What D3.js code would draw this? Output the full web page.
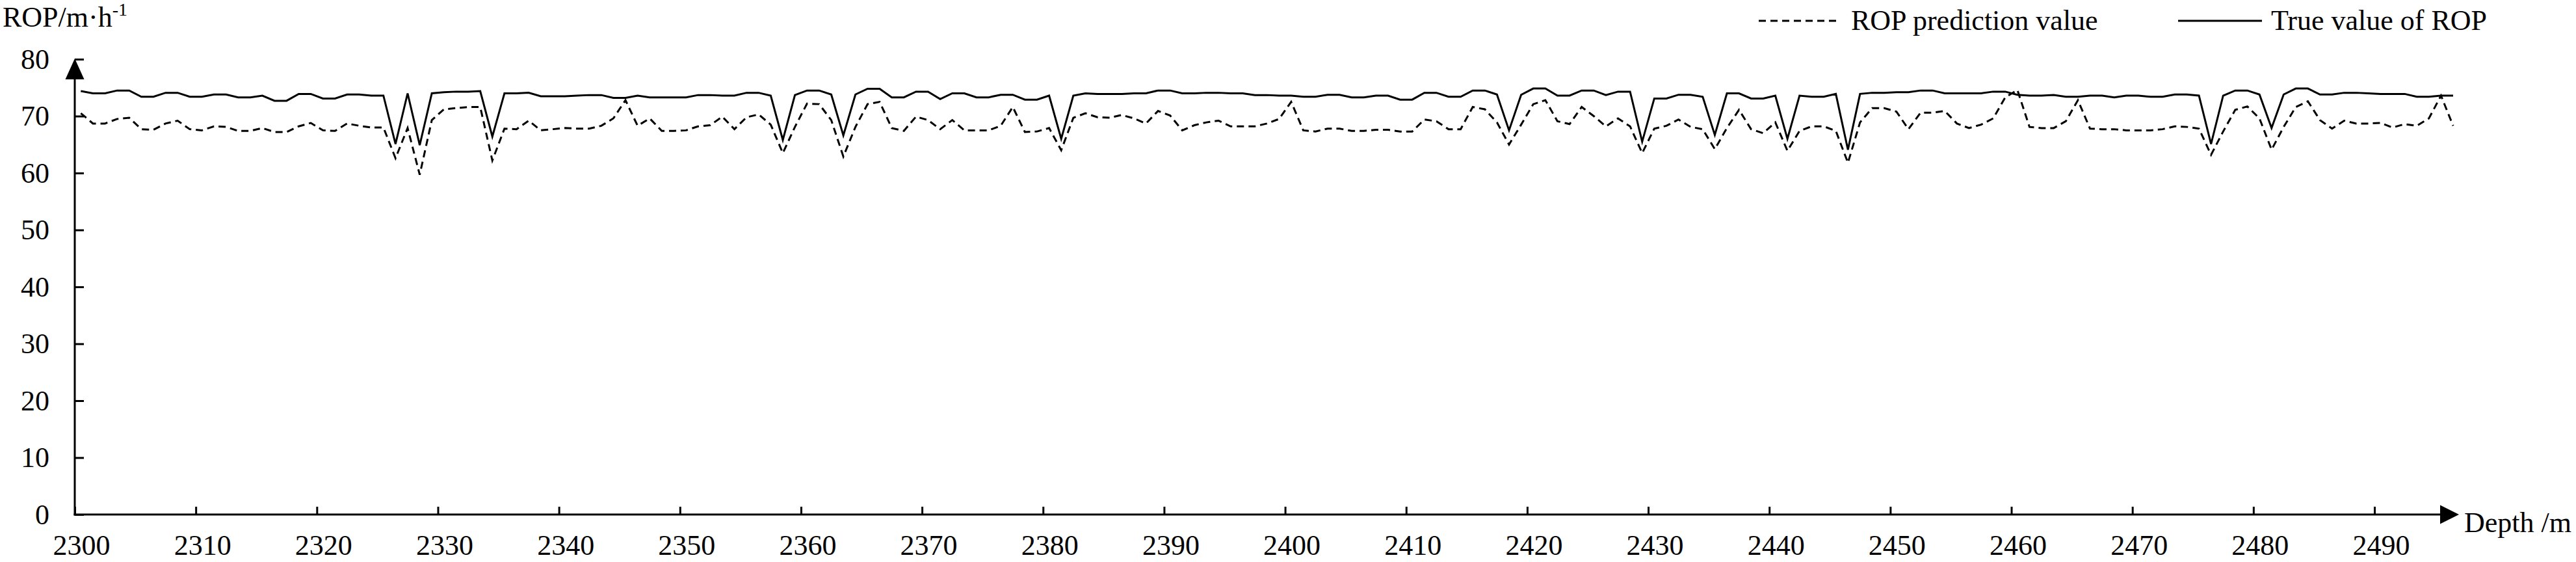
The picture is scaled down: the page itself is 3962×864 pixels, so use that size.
<!DOCTYPE html>
<html><head><meta charset="utf-8">
<script src="https://cdn.jsdelivr.net/npm/d3@7"></script>
<style>
body{margin:0;background:#fff}
svg text{font-family:"Liberation Serif","Times New Roman",serif;fill:#000}
</style>
</head><body>
<svg id="chart" width="3962" height="864"></svg>
<script>
const depths = [
2300.5,2301.5,2302.5,2303.5,2304.5,2305.5,2306.5,2307.5,2308.5,2309.5,
2310.5,2311.5,2312.5,2313.5,2314.5,2315.5,2316.5,2317.5,2318.5,2319.5,
2320.5,2321.5,2322.5,2323.5,2324.5,2325.5,2326.5,2327.5,2328.5,2329.5,
2330.5,2331.5,2332.5,2333.5,2334.5,2335.5,2336.5,2337.5,2338.5,2339.5,
2340.5,2341.5,2342.5,2343.5,2344.5,2345.5,2346.5,2347.5,2348.5,2349.5,
2350.5,2351.5,2352.5,2353.5,2354.5,2355.5,2356.5,2357.5,2358.5,2359.5,
2360.5,2361.5,2362.5,2363.5,2364.5,2365.5,2366.5,2367.5,2368.5,2369.5,
2370.5,2371.5,2372.5,2373.5,2374.5,2375.5,2376.5,2377.5,2378.5,2379.5,
2380.5,2381.5,2382.5,2383.5,2384.5,2385.5,2386.5,2387.5,2388.5,2389.5,
2390.5,2391.5,2392.5,2393.5,2394.5,2395.5,2396.5,2397.5,2398.5,2399.5,
2400.5,2401.5,2402.5,2403.5,2404.5,2405.5,2406.5,2407.5,2408.5,2409.5,
2410.5,2411.5,2412.5,2413.5,2414.5,2415.5,2416.5,2417.5,2418.5,2419.5,
2420.5,2421.5,2422.5,2423.5,2424.5,2425.5,2426.5,2427.5,2428.5,2429.5,
2430.5,2431.5,2432.5,2433.5,2434.5,2435.5,2436.5,2437.5,2438.5,2439.5,
2440.5,2441.5,2442.5,2443.5,2444.5,2445.5,2446.5,2447.5,2448.5,2449.5,
2450.5,2451.5,2452.5,2453.5,2454.5,2455.5,2456.5,2457.5,2458.5,2459.5,
2460.5,2461.5,2462.5,2463.5,2464.5,2465.5,2466.5,2467.5,2468.5,2469.5,
2470.5,2471.5,2472.5,2473.5,2474.5,2475.5,2476.5,2477.5,2478.5,2479.5,
2480.5,2481.5,2482.5,2483.5,2484.5,2485.5,2486.5,2487.5,2488.5,2489.5,
2490.5,2491.5,2492.5,2493.5,2494.5,2495.5,2496.5
];

const predROP = [
70.5,68.7,68.7,69.5,69.7,67.7,67.6,68.7,69.2,67.7,
67.5,68.2,68.1,67.4,67.4,67.9,67.2,67.2,68.2,68.8,
67.5,67.4,68.7,68.3,68.0,68.0,62.6,67.9,59.7,69.3,
71.2,71.4,71.6,71.6,62.2,67.8,67.7,69.2,67.5,67.7,
67.9,67.8,67.8,68.3,69.6,72.8,68.3,69.6,67.4,67.4,
67.5,68.2,68.4,69.9,67.7,69.8,70.3,68.5,63.5,68.1,
72.2,72.1,69.3,62.9,68.1,72.1,72.5,67.9,67.4,69.9,
69.3,67.7,69.3,67.5,67.5,67.5,68.3,71.6,67.2,67.3,
67.9,64.0,69.7,70.5,69.8,69.7,70.2,69.6,68.7,70.9,
70.1,67.5,68.4,68.9,69.2,68.2,68.2,68.2,68.7,69.5,
72.5,67.5,67.3,67.8,67.8,67.4,67.4,67.6,67.6,67.3,
67.3,69.4,69.1,67.7,67.7,71.6,71.2,68.9,65.0,68.5,
72.1,72.8,69.1,68.6,71.6,70.0,68.2,69.6,68.2,63.5,
67.8,68.3,69.4,68.1,67.7,64.2,67.9,71.1,67.7,67.0,
68.9,63.9,67.4,68.2,68.2,67.4,61.8,68.9,71.4,71.4,
70.8,67.7,70.6,70.6,70.9,68.7,67.9,68.5,69.6,73.3,
74.6,68.1,67.9,67.9,69.1,72.8,67.8,67.7,67.7,67.5,
67.5,67.5,67.7,68.2,68.1,67.8,63.2,67.3,71.1,71.7,
69.6,64.1,68.1,71.6,72.6,69.3,67.8,69.2,68.7,68.7,
68.8,68.0,68.6,68.3,69.6,73.6,68.3
];

const trueROP = [
74.4,74.0,74.0,74.5,74.5,73.4,73.4,74.1,74.1,73.4,
73.4,73.8,73.8,73.3,73.3,73.6,72.7,72.7,73.9,73.9,
73.1,73.1,73.8,73.8,73.6,73.6,65.1,74.0,64.9,74.0,
74.2,74.3,74.3,74.4,66.4,74.0,74.0,74.1,73.5,73.5,
73.5,73.6,73.7,73.7,73.2,73.2,73.6,73.3,73.3,73.3,
73.3,73.7,73.7,73.6,73.6,74.1,74.1,73.6,65.8,73.7,
74.5,74.5,73.8,66.6,73.8,74.8,74.8,73.3,73.3,74.3,
74.3,73.0,74.0,74.0,73.3,73.3,73.75,73.75,72.9,72.9,
73.6,66.0,73.6,74.0,73.9,73.9,73.9,74.0,74.0,74.5,
74.5,74.0,74.0,74.1,74.1,74.0,74.0,73.7,73.7,73.6,
73.6,73.4,73.4,73.75,73.75,73.3,73.3,73.6,73.6,72.9,
72.9,74.1,74.1,73.4,73.4,74.5,74.5,73.8,67.5,73.75,
74.85,74.85,73.6,73.6,74.5,74.5,73.7,74.3,74.3,65.5,
73.1,73.1,73.75,73.75,73.4,66.7,74.0,74.0,73.1,73.1,
73.6,66.0,73.6,73.4,73.4,73.9,64.1,73.9,74.1,74.1,
74.2,74.2,74.5,74.5,74.0,74.0,74.0,74.0,74.3,74.3,
73.75,73.6,73.6,73.7,73.4,73.4,73.6,73.6,73.3,73.6,
73.6,73.4,73.4,73.8,73.8,73.6,65.1,73.6,74.5,74.5,
73.8,67.9,73.8,74.85,74.85,73.8,73.8,74.1,74.1,74.0,
73.9,73.9,73.9,73.4,73.4,73.6,73.6
];

const xTickValues = [2300,2310,2320,2330,2340,2350,2360,2370,2380,2390,2400,2410,2420,2430,2440,2450,2460,2470,2480,2490];
const yTickValues = [0,10,20,30,40,50,60,70,80];
const seriesNames = ["ROP prediction value","True value of ROP"];
const yTitle = "ROP/m·h";
const yTitleSup = "-1";
const xTitle = "Depth /m";

const svg = d3.select("#chart");
const x = d3.scaleLinear().domain([2300, 2490]).range([115, 3652]);
const y = d3.scaleLinear().domain([0, 80]).range([791, 91]);

// Y axis
const yAxis = d3.axisLeft(y).tickValues(yTickValues).tickSizeInner(-14).tickSizeOuter(0).tickPadding(39);
const gy = svg.append("g").attr("transform","translate(115,0)").call(yAxis);
gy.select(".domain").remove();
gy.selectAll(".tick line").attr("stroke","#000").attr("stroke-width",3);
gy.selectAll(".tick text").attr("font-size",44).style("font-family","Liberation Serif, Times New Roman, serif");

// X axis
const xAxis = d3.axisBottom(x).tickValues(xTickValues).tickSizeInner(-12).tickSizeOuter(0).tickPadding(31).tickFormat(d3.format("d"));
const gx = svg.append("g").attr("transform","translate(0,791)").call(xAxis);
gx.select(".domain").remove();
gx.selectAll(".tick line").attr("stroke","#000").attr("stroke-width",3);
gx.selectAll(".tick text").attr("font-size",44).attr("dx",10).style("font-family","Liberation Serif, Times New Roman, serif");

// axis lines with arrows
svg.append("line").attr("x1",115).attr("x2",115).attr("y1",y(0)+1.5).attr("y2",y(80)+20).attr("stroke","#000").attr("stroke-width",3);
svg.append("path").attr("d","M115,90 L100.5,122 L129.5,122 Z").attr("fill","#000");
svg.append("line").attr("x1",113.5).attr("x2",3760).attr("y1",791).attr("y2",791).attr("stroke","#000").attr("stroke-width",3);
svg.append("path").attr("d","M3782,791 L3753,776.5 L3753,805.5 Z").attr("fill","#000");

// series lines
const line = d3.line().x((d,i)=>x(depths[i])).y(d=>y(d));
svg.append("path").datum(predROP).attr("d",line).attr("fill","none").attr("stroke","#000").attr("stroke-width",3).attr("stroke-dasharray","11,7").attr("stroke-linejoin","miter");
svg.append("path").datum(trueROP).attr("d",line).attr("fill","none").attr("stroke","#000").attr("stroke-width",3).attr("stroke-linejoin","miter");

// titles
const yt = svg.append("text").attr("x",4).attr("y",41).attr("font-size",44).text(yTitle);
yt.append("tspan").attr("font-size",28).attr("dy",-17).text(yTitleSup);
svg.append("text").attr("x",3790).attr("y",818).attr("font-size",44).text(xTitle);

// legend
svg.append("line").attr("x1",2705).attr("x2",2831).attr("y1",32).attr("y2",32).attr("stroke","#000").attr("stroke-width",3).attr("stroke-dasharray","11,7");
svg.append("text").attr("x",2847).attr("y",46).attr("font-size",44).text(seriesNames[0]);
svg.append("line").attr("x1",3350).attr("x2",3479).attr("y1",32).attr("y2",32).attr("stroke","#000").attr("stroke-width",3);
svg.append("text").attr("x",3493).attr("y",46).attr("font-size",44).text(seriesNames[1]);
</script>
</body></html>
